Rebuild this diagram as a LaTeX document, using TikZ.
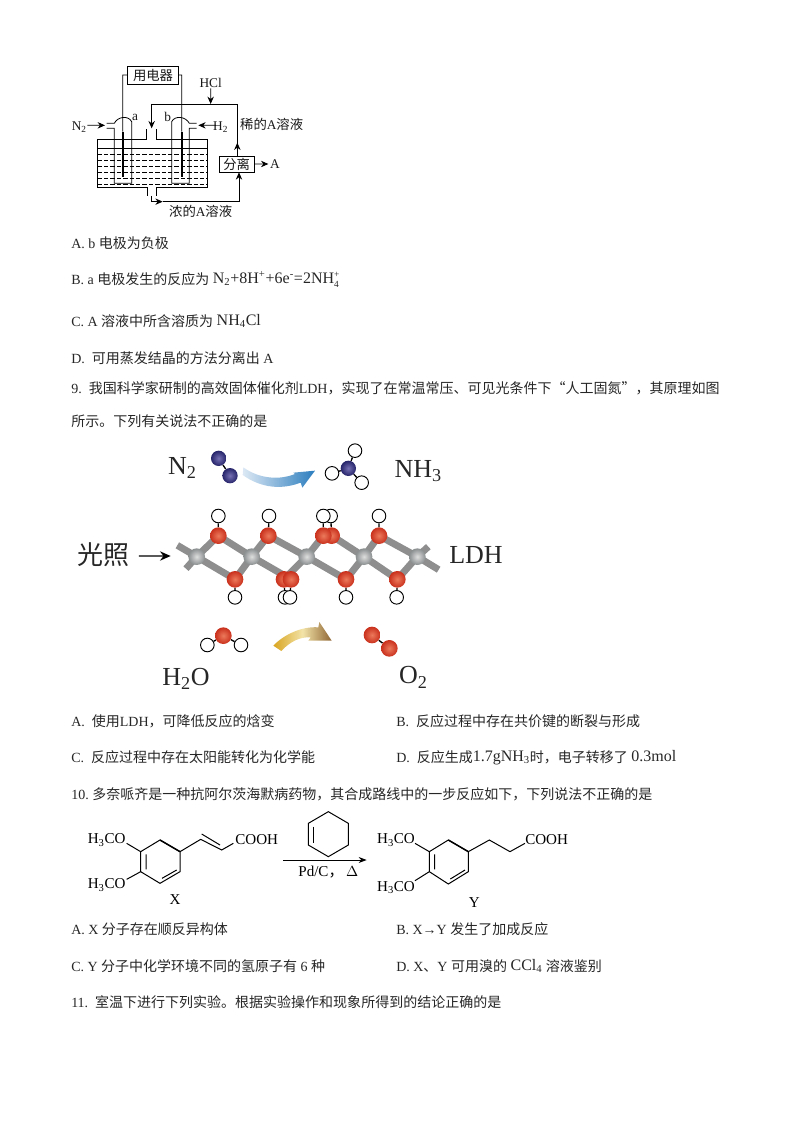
\documentclass[tikz,border=0pt]{standalone}
\usepackage{fontspec}
\setmainfont{Liberation Serif}
\newfontfamily\cjk{Noto Sans CJK SC}
\usetikzlibrary{arrows.meta,backgrounds}
\newcommand\C[1]{{\cjk #1}}
\newcommand\stk[2]{\rlap{\raisebox{4.5pt}{\fontsize{7}{7}\selectfont #1}}\raisebox{-3.5pt}{\fontsize{7}{7}\selectfont #2}}
\newcommand\F[1]{\raisebox{0.7pt}{\fontsize{12}{12}\selectfont #1}}
\definecolor{oxo}{HTML}{C9301C}
\definecolor{oxi}{HTML}{EC7A5C}
\definecolor{nio}{HTML}{26246A}
\definecolor{nii}{HTML}{7670B4}
\definecolor{gro}{HTML}{8A8E8F}
\definecolor{gri}{HTML}{DEDEDE}
\definecolor{barc}{HTML}{8E8E8E}
\definecolor{bl1}{HTML}{DCE8F4}
\definecolor{bl2}{HTML}{2B7DBE}
\definecolor{go1}{HTML}{D9A520}
\definecolor{go2}{HTML}{F2E3A8}
\definecolor{go3}{HTML}{8F6533}
\tikzset{
 x=0.75pt,y=-0.75pt,
 body/.style={anchor=base west,inner sep=0pt,font=\fontsize{10.5}{12}\selectfont,text=black!85},
 hyd/.style={circle,draw=black,fill=white,line width=0.7pt,minimum size=10.2pt,inner sep=0pt},
 oxy/.style={circle,shading=radial,inner color=oxi,outer color=oxo,minimum size=12.5pt,inner sep=0pt},
 nit/.style={circle,shading=radial,inner color=nii,outer color=nio,minimum size=11.5pt,inner sep=0pt},
 gry/.style={circle,shading=radial,inner color=gri,outer color=gro,minimum size=12.5pt,inner sep=0pt},
 bar/.style={line width=5.2pt,draw=barc},
 bond/.style={line width=1pt,draw=black},
 big/.style={font=\fontsize{19.5}{22}\selectfont,inner sep=0pt,text=black!85},
 lab/.style={font=\fontsize{10}{12}\selectfont,inner sep=0pt,text=black!90},
 wire/.style={line width=0.6pt,draw=black},
 rod/.style={line width=1.5pt,draw=black},
 arr/.style={line width=0.6pt,draw=black,-{Stealth[length=5.5pt,width=4.8pt]}},
 chem/.style={font=\fontsize{11.3}{13}\selectfont,inner sep=0pt,text=black},
 stick/.style={line width=0.75pt,draw=black},
 boxed/.style={draw=black,line width=0.6pt,fill=white,inner sep=0pt},
}
\begin{document}
\begin{tikzpicture}
\useasboundingbox (0,0) rectangle (794,1123);
% ---------- cell ----------
\begin{scope}[shift={(60,60)},scale=1/3]
 \node[boxed,lab,minimum width=38pt,minimum height=13.5pt] (load) at (279,45) {\C{用电器}};
 \node[boxed,lab,minimum width=26pt,minimum height=12pt] (sep) at (530,312) {\C{分离}};
 \node[lab] (hcl) at (452,70) {HCl};
 \node[lab] (n2) at (58,200) {N\textsubscript{2}};
 \node[lab] (h2) at (482,202) {H\textsubscript{2}};
 \node[lab] (la) at (225,172) {a};
 \node[lab] (lb) at (323,170) {b};
 \node[lab] (pa) at (645,312) {A};
 \node[lab] at (635,192) {\C{稀的}A\C{溶液}};
 \node[lab] at (422,455) {\C{浓的}A\C{溶液}};
 % tank
 \draw[wire] (260,208)--(260,237)--(113,237)--(113,383)--(262,383)--(262,408);
 \draw[wire] (290,208)--(290,237)--(441,237)--(441,383)--(290,383)--(290,408);
 \draw[wire] (113,265)--(441,265);
 \foreach \yy in {283,301,319,337,355,372}
   \draw[wire,dash pattern=on 3.2pt off 1.6pt] (113,\yy)--(441,\yy);
 % tubes
 \draw[wire] (140,190)--(163,190) .. controls (172,170) and (205,165) .. (215,185)--(215,370)--(163,370)--(163,205)--(140,205);
 \draw[wire] (410,190)--(388,190) .. controls (378,170) and (345,165) .. (335,185)--(335,370)--(388,370)--(388,205)--(410,205);
 % electrodes and load wires
 \draw[wire] (load.west)--(188,45)--(188,215);
 \draw[wire] (load.east)--(365,45)--(365,215);
 \draw[rod] (188,215)--(188,352);
 \draw[rod] (365,215)--(365,352);
 % arrows
 \coordinate (n2a) at (82,196);
 \coordinate (h2a) at (468,196);
 \draw[arr] (n2a)--(135,196);
 \draw[arr] (h2a)--(415,196);
 \draw[arr] (hcl.south)--(452,132);
 \draw[wire] (532,132)--(275,132);
 \draw[arr] (275,132)--(275,205);
 \draw[wire] (532,288)--(532,132);
 \draw[arr] (532,288)--(532,248);
 \draw[arr] (sep.east)--(625,312);
 \draw[wire] (275,408)--(275,425);
 \draw[arr] (275,425)--(308,425);
 \draw[wire] (308,425)--(537,425);
 \draw[arr] (537,425)--(537,337);
\end{scope}
% ---------- options A-D ----------
\node[body] at (71,248) {A. b \C{电极为负极}};
\node[body] at (71,284) {B. a \C{电极发生的反应为} \F{N\textsubscript{2}+8H\textsuperscript{+}+6e\textsuperscript{-}=2NH\stk{+}{4}}};
\node[body] at (71,326) {C. A \C{溶液中所含溶质为} \F{NH\textsubscript{4}Cl}};
\node[body] at (71,363) {D.\ \ \C{可用蒸发结晶的方法分离出} A};
\node[body] at (71,393) {9.\ \ \C{我国科学家研制的高效固体催化剂}LDH\C{，实现了在常温常压、可见光条件下“人工固氮”，其原理如图}};
\node[body] at (71,426) {\C{所示。下列有关说法不正确的是}};
% ---------- LDH ----------
\begin{scope}[shift={(60,440)},scale=1/3]
 \node[big] (ln2) at (367,85) {N\textsubscript{2}};
 \node[big] (lnh) at (1075,92) {NH\textsubscript{3}};
 \node[big] (lgz) at (130,345) {\C{光照}};
 \node[big] (lld) at (1248,345) {LDH};
 \node[big] (lho) at (378,717) {H\textsubscript{2}O};
 \node[big] (loo) at (1060,712) {O\textsubscript{2}};
 % N2 and NH3
 \node[nit] (n1) at (476,55) {};
 \node[nit] (n2) at (510,107) {};
 \node[nit] (n3) at (865,85) {};
 \node[hyd] (h1) at (885,32) {};
 \node[hyd] (h2) at (816,100) {};
 \node[hyd] (h3) at (905,128) {};
 % lattice
 \foreach \n/\xx in {1/410,2/575,3/740,4/912,5/1072} \node[gry] (g\n) at (\xx,350) {};
 \foreach \n/\xx/\hh in {1/475/475,2/625/627,3/815/812,4/790/790,5/957/957}{
   \node[hyd] (ht\n) at (\hh,228) {};
   \node[oxy] (ot\n) at (\xx,287) {};
 }
 \foreach \n/\xx/\hh in {1/525/525,2/672/675,3/693/690,4/858/858,5/1012/1010}{
   \node[hyd] (hb\n) at (\hh,472) {};
   \node[oxy] (ob\n) at (\xx,418) {};
 }
 \coordinate (s1) at (352,316);
 \coordinate (s2) at (378,386);
 \coordinate (s3) at (1136,389);
 \coordinate (s4) at (1105,320);
 \begin{pgfonlayer}{background}
  \draw[bar] (s1)--(g1.center)--(ob1.center);
  \draw[bar] (ot1.center)--(g2.center)--(ob3.center);
  \draw[bar] (ot2.center)--(g3.center)--(ob4.center);
  \draw[bar] (ot3.center)--(g4.center)--(ob5.center);
  \draw[bar] (ot5.center)--(g5.center)--(s3);
  \draw[bar] (s2)--(g1.center)--(ot1.center);
  \draw[bar] (ob1.center)--(g2.center)--(ot2.center);
  \draw[bar] (ob2.center)--(g3.center)--(ot4.center);
  \draw[bar] (ob4.center)--(g4.center)--(ot5.center);
  \draw[bar] (ob5.center)--(g5.center)--(s4);
  \foreach \n in {1,...,5}{
    \draw[bond] (ot\n)--(ht\n);
    \draw[bond] (ob\n)--(hb\n);
  }
  \draw[bond] (n1)--(n2);
  \draw[bond] (n3)--(h1);
  \draw[bond] (n3)--(h2);
  \draw[bond] (n3)--(h3);
 \end{pgfonlayer}
 % light arrow
 \coordinate (lga) at (237,348);
 \draw[line width=1.1pt,-{Stealth[length=8pt,width=7pt]}] (lga)--(332,348);
 % blue curved arrow
 \shade[left color=bl1,right color=bl2]
   (550,82) .. controls (600,118) and (660,120) .. (705,102) -- (700,98) -- (765,92) -- (727,143) -- (722,128)
   .. controls (650,155) and (590,135) .. (548,105) -- cycle;
 % water and oxygen
 \node[oxy] (w1) at (490,587) {};
 \node[hyd] (w2) at (442,615) {};
 \node[hyd] (w3) at (543,615) {};
 \node[oxy] (o1) at (936,585) {};
 \node[oxy] (o2) at (988,625) {};
 \begin{pgfonlayer}{background}
  \draw[bond] (w1)--(w2);
  \draw[bond] (w1)--(w3);
  \draw[bond] (o1)--(o2);
 \end{pgfonlayer}
 % gold curved arrow
 \shade[left color=go1,right color=go3,middle color=go2]
   (640,617) .. controls (670,585) and (725,558) .. (775,562) -- (778,546) -- (815,602) -- (745,602) -- (752,592)
   .. controls (720,590) and (690,605) .. (664,633) -- cycle;
\end{scope}
% ---------- options ----------
\node[body] at (71,726) {A.\ \ \C{使用}LDH\C{，可降低反应的焓变}};
\node[body] at (396,726) {B.\ \ \C{反应过程中存在共价键的断裂与形成}};
\node[body] at (71,762) {C.\ \ \C{反应过程中存在太阳能转化为化学能}};
\node[body] at (396,762) {D.\ \ \C{反应生成}\F{1.7gNH\textsubscript{3}}\C{时，电子转移了} \F{0.3mol}};
\node[body] at (71,799) {10.\ \C{多奈哌齐是一种抗阿尔茨海默病药物，其合成路线中的一步反应如下，下列说法不正确的是}};
% ---------- reaction ----------
\begin{scope}[shift={(70,810)},scale=1/3]
 \node[chem] (x1) at (110,90) {H\textsubscript{3}CO};
 \node[chem] (x2) at (110,225) {H\textsubscript{3}CO};
 \node[chem] (x3) at (560,90) {COOH};
 \node[chem] (xl) at (315,270) {X};
 \node[chem] (y1) at (978,90) {H\textsubscript{3}CO};
 \node[chem] (y2) at (978,232) {H\textsubscript{3}CO};
 \node[chem] (y3) at (1430,90) {COOH};
 \node[chem] (yl) at (1213,278) {Y};
 \node[chem] (pd) at (775,185) {Pd/C\C{，}\,$\Delta$};
 \coordinate (ar1) at (640,150);
 \coordinate (ar2) at (890,150);
 \draw[stick,-{Stealth[length=6pt,width=4.5pt]}] (ar1)--(ar2);
 % X
 \draw[stick] (270,90)--(330,125)--(330,185)--(270,220)--(212,185)--(212,125)--cycle;
 \draw[stick] (228,133)--(228,178) (276,205)--(320,180);
 \draw[line width=1.1pt] (270,90)--(330,125);
 \draw[stick] (212,125)--(170,100) (212,185)--(170,208);
 \draw[stick] (330,125)--(392,88)--(455,120)--(490,100) (395,72)--(450,105);
 % cyclohexene
 \draw[stick] (775,5)--(835,40)--(835,105)--(775,140)--(715,105)--(715,40)--cycle;
 \draw[stick] (730,50)--(730,98);
 % Y
 \draw[stick] (1135,90)--(1195,125)--(1195,185)--(1135,222)--(1078,185)--(1078,125)--cycle;
 \draw[stick] (1094,133)--(1094,178) (1141,207)--(1185,180);
 \draw[line width=1.1pt] (1135,90)--(1195,125);
 \draw[stick] (1078,125)--(1035,100) (1078,185)--(1035,212);
 \draw[stick] (1195,125)--(1258,90)--(1320,125)--(1365,100);
\end{scope}
% ---------- options ----------
\node[body] at (71,934) {A. X \C{分子存在顺反异构体}};
\node[body] at (396,934) {B. X→Y \C{发生了加成反应}};
\node[body] at (71,971) {C. Y \C{分子中化学环境不同的氢原子有} 6 \C{种}};
\node[body] at (396,971) {D. X\C{、}Y \C{可用溴的} \F{CCl\textsubscript{4}} \C{溶液鉴别}};
\node[body] at (71,1007) {11.\ \ \C{室温下进行下列实验。根据实验操作和现象所得到的结论正确的是}};
\end{tikzpicture}
\end{document}
